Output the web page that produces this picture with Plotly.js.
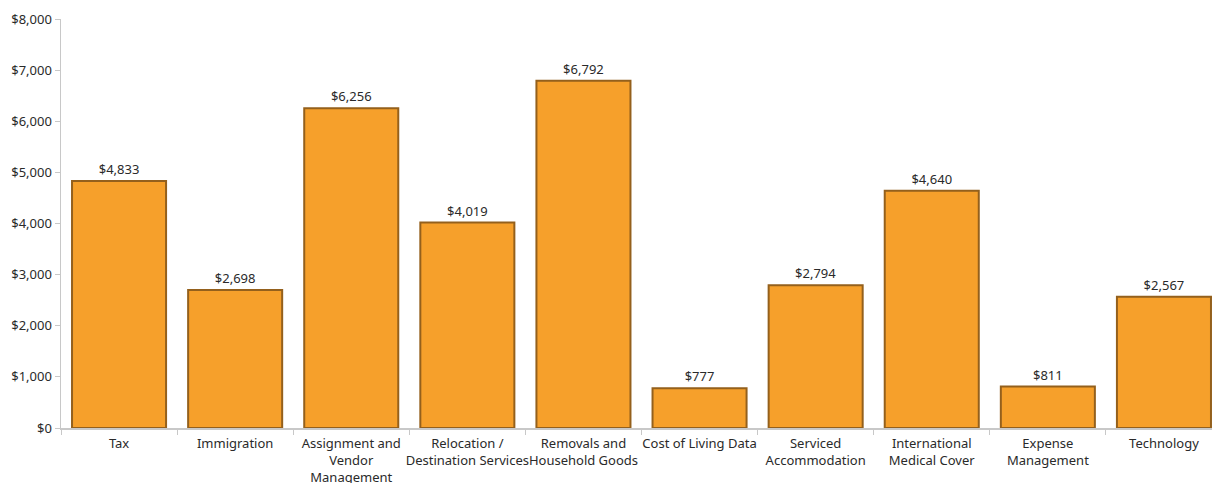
<!DOCTYPE html>
<html><head><meta charset="utf-8">
<script src="https://cdn.plot.ly/plotly-3.0.1.min.js"></script>
<style>html,body{margin:0;padding:0;overflow:hidden;background:#fff;}</style>
</head><body>
<div id="chart"></div>
<script>
const categories = ["Tax","Immigration","Assignment and<br>Vendor<br>Management","Relocation /<br>Destination Services","Removals and<br>Household Goods","Cost of Living Data","Serviced<br>Accommodation","International<br>Medical Cover","Expense<br>Management","Technology"];
const values = [4833,2698,6256,4019,6792,777,2794,4640,811,2567];
const yTicks = [0,1000,2000,3000,4000,5000,6000,7000,8000];

const trace = {
  type:'bar', x:categories, y:values,
  marker:{color:'#F6A02B', line:{color:'#94601C', width:2}},
  text: values.map(v => '$' + v.toLocaleString('en-US')),
  textposition:'outside', cliponaxis:false,
  textfont:{family:'Noto Sans, sans-serif', size:13, color:'#2a2a2a'},
  hoverinfo:'none'
};
const layout = {
  width:1240, height:483,
  margin:{l:61, r:18, t:19, b:55},
  paper_bgcolor:'#fff', plot_bgcolor:'#fff',
  showlegend:false, bargap:0.19,
  font:{family:'Noto Sans, sans-serif', size:13, color:'#2a2a2a'},
  xaxis:{type:'category', showline:true, linecolor:'#c8c8c8', linewidth:1.5,
         ticks:'outside', tickson:'boundaries', ticklen:5, tickcolor:'#c8c8c8',
         tickangle:0, ticklabelstandoff:3, showgrid:false, tickfont:{size:13, color:'#2a2a2a'}, automargin:false},
  yaxis:{range:[0,8000], tickvals:yTicks, ticktext:yTicks.map(v=>'$'+v.toLocaleString('en-US')),
         showline:true, linecolor:'#c8c8c8', linewidth:1.5, ticks:'outside', ticklen:5,
         tickcolor:'#c8c8c8', showgrid:false, zeroline:false, tickfont:{size:13, color:'#2a2a2a'}, automargin:false}
};
Plotly.newPlot('chart',[trace],layout,{staticPlot:true, displayModeBar:false});
</script>
</body></html>
